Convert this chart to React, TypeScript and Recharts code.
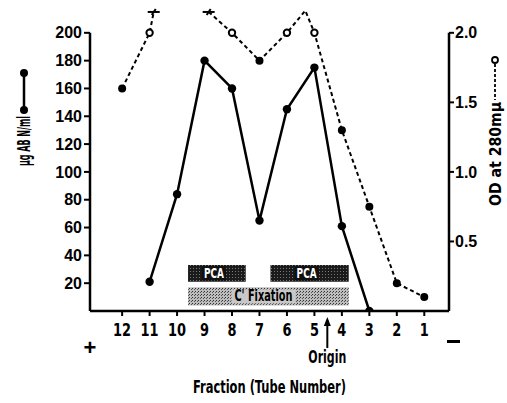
import React from 'react';
import { LineChart, Line, XAxis, YAxis, ReferenceArea, ReferenceLine, ReferenceDot, Label } from 'recharts';

// ---- data ----
const tubes = [12, 11, 10, 9, 8, 7, 6, 5, 4, 3, 2, 1];
const abValues: (number | null)[] = [null, 21, 84, 180, 160, 65, 145, 175, 61, 0, null, null];
const odValues: (number | null)[] = [1.6, 2.0, null, null, 2.0, 1.8, 2.0, 2.0, 1.3, 0.75, 0.2, 0.1];
const odOpenMarker = [false, true, false, false, true, false, true, true, false, false, false, false];
const odOffScaleTubes = [10.85, 8.85]; // trace leaves / re-enters the plotted range
const odOffScaleValue = 2.15;
const odPeakTube = 5.33;
const odPeakValue = 2.16;
const abTicks = [20, 40, 60, 80, 100, 120, 140, 160, 180, 200];
const odTicks = [0.5, 1.0, 1.5, 2.0];
const pcaBands = [
  { from: 9.6, to: 7.5 },
  { from: 6.6, to: 3.75 },
];
const fixationBand = { from: 9.6, to: 3.75 };
const originTube = 4.53;
const xDomain: [number, number] = [0.1, 13.17];

const abData = tubes
  .map((t, i) => ({ tube: t, ab: abValues[i] }))
  .filter((d) => d.ab !== null);

const odData = [
  ...tubes.map((t, i) => ({ tube: t, od: odValues[i], kind: odOpenMarker[i] ? 'open' : 'filled' })),
  ...odOffScaleTubes.map((t) => ({ tube: t, od: odOffScaleValue, kind: 'break' })),
  { tube: odPeakTube, od: odPeakValue, kind: 'none' },
].sort((a, b) => b.tube - a.tube);

const FONT = "'DejaVu Sans Condensed', 'Liberation Sans', sans-serif";
const TICKFONT = "'Liberation Sans', Arial, sans-serif";

const AbDot = (p: any) => {
  if (p.cx == null || p.cy == null || p.value == null) return <g key={p.index} />;
  return <circle key={p.index} cx={p.cx} cy={p.cy} r={4.2} fill="#000" />;
};

const OdDot = (p: any) => {
  const k = p.payload?.kind;
  if (p.cx == null || p.cy == null || p.value == null || k === 'none') return <g key={p.index} />;
  if (k === 'break')
    return (
      <g key={p.index} stroke="#000" strokeWidth={2}>
        <line x1={p.cx - 6} y1={p.cy} x2={p.cx + 6} y2={p.cy} />
        <line x1={p.cx - 2} y1={p.cy + 3} x2={p.cx + 2} y2={p.cy - 3} />
      </g>
    );
  if (k === 'open')
    return <circle key={p.index} cx={p.cx} cy={p.cy} r={3.2} fill="#fff" stroke="#000" strokeWidth={2} />;
  return <circle key={p.index} cx={p.cx} cy={p.cy} r={4} fill="#000" />;
};

const XTick = (p: any) => (
  <text
    x={p.x}
    y={p.y + 13}
    textAnchor="middle"
    fontFamily={FONT}
    fontWeight="bold"
    fontSize={18}
    fill="#000"
    transform={`translate(${p.x},0) scale(0.8,1) translate(${-p.x},0)`}
  >
    {p.payload.value}
  </text>
);

const LeftTitle = (props: any) => {
  const vb = props.viewBox;
  const x = vb.x - 26;
  return (
    <g>
      <line x1={x} y1={73} x2={x} y2={110} stroke="#000" strokeWidth={2.5} />
      <circle cx={x} cy={73} r={4} fill="#000" />
      <circle cx={x} cy={110} r={4} fill="#000" />
      <text
        transform={`translate(${x},141) rotate(-90)`}
        textAnchor="middle"
        dominantBaseline="central"
        fontFamily={FONT}
        fontWeight="bold"
        fontSize={17}
        textLength={50}
        lengthAdjust="spacingAndGlyphs"
        fill="#000"
      >
        µg AB N/ml
      </text>
    </g>
  );
};

const RightTitle = (props: any) => {
  const vb = props.viewBox;
  const x = vb.x + 46;
  return (
    <g>
      <circle cx={x} cy={60} r={3} fill="#fff" stroke="#000" strokeWidth={1.8} />
      <line x1={x} y1={64} x2={x} y2={100} stroke="#000" strokeWidth={1.8} strokeDasharray="3 2" />
      <text
        transform={`translate(${x},154) rotate(-90)`}
        textAnchor="middle"
        dominantBaseline="central"
        fontFamily={FONT}
        fontWeight="bold"
        fontSize={16}
        textLength={104}
        lengthAdjust="spacingAndGlyphs"
        fill="#000"
      >
        OD at 280mµ
      </text>
    </g>
  );
};

const XTitle = (props: any) => {
  const vb = props.viewBox;
  return (
    <text
      x={vb.x + vb.width / 2}
      y={393}
      textAnchor="middle"
      fontFamily={FONT}
      fontWeight="bold"
      fontSize={18}
      textLength={153}
      lengthAdjust="spacingAndGlyphs"
      fill="#000"
    >
      Fraction (Tube Number)
    </text>
  );
};

const OriginMark = (p: any) => (
  <g>
    <line x1={p.cx} y1={p.cy + 9} x2={p.cx} y2={p.cy + 37} stroke="#000" strokeWidth={2} />
    <path d={`M${p.cx - 3.5},${p.cy + 15} L${p.cx},${p.cy + 6} L${p.cx + 3.5},${p.cy + 15} Z`} fill="#000" />
    <text
      x={p.cx}
      y={p.cy + 52}
      textAnchor="middle"
      fontFamily={FONT}
      fontWeight="bold"
      fontSize={18}
      textLength={38}
      lengthAdjust="spacingAndGlyphs"
      fill="#000"
    >
      Origin
    </text>
  </g>
);

const PlusMark = (p: any) => (
  <text x={p.cx} y={p.cy + 44} textAnchor="middle" fontFamily={TICKFONT} fontWeight="bold" fontSize={22} fill="#000">
    +
  </text>
);

const MinusMark = (p: any) => <rect x={p.cx - 2} y={p.cy + 29} width={13} height={3} fill="#000" />;

const PcaLabel = (props: any) => {
  const vb = props.viewBox;
  const cx = vb.x + vb.width / 2 - 3;
  const cy = vb.y + vb.height / 2;
  return (
    <g>
      <rect x={cx - 12} y={cy - 7} width={24} height={14} fill="#111" />
      <text
        x={cx}
        y={cy}
        textAnchor="middle"
        dominantBaseline="central"
        fontFamily={FONT}
        fontWeight="bold"
        fontSize={14}
        textLength={20}
        lengthAdjust="spacingAndGlyphs"
        fill="#fff"
      >
        PCA
      </text>
    </g>
  );
};

const FixLabel = (props: any) => {
  const vb = props.viewBox;
  const cx = vb.x + vb.width / 2 - 5;
  const cy = vb.y + vb.height / 2;
  return (
    <g>
      <rect x={cx - 32} y={cy - 7} width={64} height={14} fill="#c8c8c8" />
      <text
        x={cx}
        y={cy}
        textAnchor="middle"
        dominantBaseline="central"
        fontFamily={FONT}
        fontWeight="bold"
        fontSize={15}
        textLength={58}
        lengthAdjust="spacingAndGlyphs"
        fill="#000"
      >
        C' Fixation
      </text>
    </g>
  );
};

export default function App() {
  return (
    <div style={{ position: 'absolute', left: 0, top: 0, background: '#fff' }}>
      <LineChart width={507} height={403} margin={{ top: 5, right: 18, bottom: 62, left: 50 }}>
        <defs>
          <pattern id="pcaPat" width="3" height="3" patternUnits="userSpaceOnUse">
            <rect width="3" height="3" fill="#1a1a1a" />
            <rect x="1" y="1" width="1" height="1" fill="#777" />
          </pattern>
          <pattern id="fixPat" width="3" height="3" patternUnits="userSpaceOnUse">
            <rect width="3" height="3" fill="#bdbdbd" />
            <rect x="0" y="0" width="1" height="1" fill="#333" />
            <rect x="2" y="1" width="1" height="1" fill="#555" />
          </pattern>
        </defs>
        <XAxis
          dataKey="tube"
          type="number"
          domain={xDomain}
          reversed
          allowDataOverflow
          ticks={tubes}
          interval={0}
          axisLine={{ stroke: '#000', strokeWidth: 2.5 }}
          tickLine={{ stroke: '#000', strokeWidth: 2 }}
          tickSize={5}
          tickMargin={7}
          height={30}
          tick={<XTick />}
        >
          <Label content={<XTitle />} />
        </XAxis>
        <YAxis
          yAxisId="ab"
          orientation="left"
          type="number"
          domain={[0, 220]}
          ticks={abTicks}
          interval={0}
          allowDataOverflow
          width={40}
          axisLine={false}
          tickLine={{ stroke: '#000', strokeWidth: 2 }}
          tickSize={6}
          tickMargin={2}
          tick={{ fill: '#000', fontFamily: TICKFONT, fontWeight: 'bold', fontSize: 16 }}
        >
          <Label content={<LeftTitle />} />
        </YAxis>
        <YAxis
          yAxisId="od"
          orientation="right"
          type="number"
          domain={[0, 2.2]}
          ticks={odTicks}
          interval={0}
          allowDataOverflow
          width={40}
          axisLine={false}
          tickLine={{ stroke: '#000', strokeWidth: 2 }}
          tickSize={5}
          tickMargin={1}
          tickFormatter={(v: number) => v.toFixed(1)}
          tick={{ fill: '#000', fontFamily: TICKFONT, fontWeight: 'bold', fontSize: 16 }}
        >
          <Label content={<RightTitle />} />
        </YAxis>

        <ReferenceLine
          yAxisId="ab"
          segment={[{ x: xDomain[1], y: 0 }, { x: xDomain[1], y: 200 }]}
          stroke="#000"
          strokeWidth={2.5}
          ifOverflow="visible"
        />
        <ReferenceLine
          yAxisId="ab"
          segment={[{ x: xDomain[0], y: 0 }, { x: xDomain[0], y: 200 }]}
          stroke="#000"
          strokeWidth={2.5}
          ifOverflow="visible"
        />

        {pcaBands.map((b, i) => (
          <ReferenceArea
            key={i}
            yAxisId="ab"
            x1={b.from}
            x2={b.to}
            y1={21}
            y2={33}
            fill="url(#pcaPat)"
            fillOpacity={1}
            stroke="none"
            label={<PcaLabel />}
          />
        ))}
        <ReferenceArea
          yAxisId="ab"
          x1={fixationBand.from}
          x2={fixationBand.to}
          y1={4}
          y2={17}
          fill="url(#fixPat)"
          fillOpacity={1}
          stroke="none"
          label={<FixLabel />}
        />

        <Line
          yAxisId="od"
          data={odData}
          dataKey="od"
          type="linear"
          stroke="#000"
          strokeWidth={2}
          strokeDasharray="4 3"
          connectNulls={false}
          dot={OdDot}
          activeDot={false}
          isAnimationActive={false}
        />
        <Line
          yAxisId="ab"
          data={abData}
          dataKey="ab"
          type="linear"
          stroke="#000"
          strokeWidth={2.5}
          dot={AbDot}
          activeDot={false}
          isAnimationActive={false}
        />

        <ReferenceDot yAxisId="ab" x={originTube} y={0} r={0} ifOverflow="visible" shape={<OriginMark />} />
        <ReferenceDot yAxisId="ab" x={xDomain[1]} y={0} r={0} ifOverflow="visible" shape={<PlusMark />} />
        <ReferenceDot yAxisId="ab" x={xDomain[0]} y={0} r={0} ifOverflow="visible" shape={<MinusMark />} />
      </LineChart>
    </div>
  );
}
